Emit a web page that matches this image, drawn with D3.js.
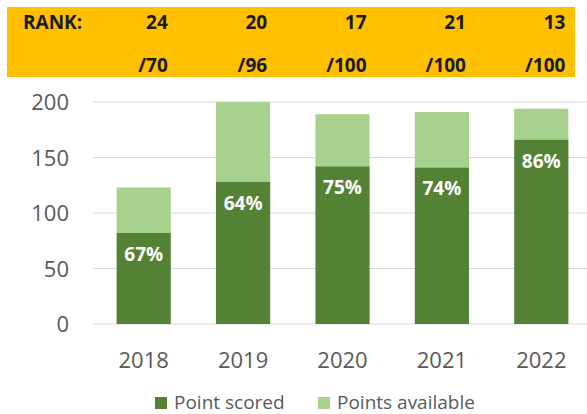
<!DOCTYPE html>
<html>
<head>
<meta charset="utf-8">
<script src="https://cdn.jsdelivr.net/npm/d3@7"></script>
<style>
  body { margin: 0; background: #fff; }
  svg { display: block; font-family: "Open Sans", sans-serif; }
</style>
</head>
<body>
<div id="chart"></div>
<script>
const years = ['2018', '2019', '2020', '2021', '2022'];
const scored = [82, 128, 142, 141, 166];
const available = [123, 200, 189, 191, 194];
const percentLabels = ['67%', '64%', '75%', '74%', '86%'];
const ranks = ['24', '20', '17', '21', '13'];
const rankOf = ['/70', '/96', '/100', '/100', '/100'];
const yTicks = [0, 50, 100, 150, 200];

const width = 587, height = 414;
const darkGreen = '#548235', lightGreen = '#a9d18e';

const svg = d3.select('#chart')
    .append('svg')
    .attr('width', width)
    .attr('height', height);

// scales
const x = d3.scaleBand()
    .domain(years)
    .range([94, 591])
    .paddingInner(0.455)
    .paddingOuter(0.2275);

const y = d3.scaleLinear()
    .domain([0, 200])
    .range([324, 102]);

// yellow rank banner
svg.append('rect')
    .attr('x', 7)
    .attr('y', 7)
    .attr('width', 568)
    .attr('height', 70)
    .attr('fill', '#ffc000');

svg.append('text')
    .attr('x', 23)
    .attr('y', 29)
    .attr('fill', '#1a1a1a')
    .style('font-size', '19px')
    .style('font-weight', 'bold')
    .text('RANK:');

svg.selectAll('.rank')
    .data(years)
    .enter()
    .append('text')
    .attr('class', 'rank')
    .attr('x', d => x(d) + x.bandwidth() - 3)
    .attr('y', 29)
    .attr('text-anchor', 'end')
    .attr('fill', '#1a1a1a')
    .style('font-size', '19px')
    .style('font-weight', 'bold')
    .text((d, i) => ranks[i]);

svg.selectAll('.rank-of')
    .data(years)
    .enter()
    .append('text')
    .attr('class', 'rank-of')
    .attr('x', d => x(d) + x.bandwidth() - 3)
    .attr('y', 72)
    .attr('text-anchor', 'end')
    .attr('fill', '#1a1a1a')
    .style('font-size', '19px')
    .style('font-weight', 'bold')
    .text((d, i) => rankOf[i]);

// gridlines
svg.selectAll('.grid')
    .data(yTicks)
    .enter()
    .append('line')
    .attr('class', 'grid')
    .attr('x1', 93)
    .attr('x2', width)
    .attr('y1', d => y(d))
    .attr('y2', d => y(d))
    .attr('stroke', '#d9d9d9')
    .attr('stroke-width', 1.2);

// y axis labels
const yAxis = d3.axisLeft(y).tickValues(yTicks).tickSize(0).tickPadding(0);
const yG = svg.append('g')
    .attr('transform', 'translate(69,0)')
    .call(yAxis);
yG.select('.domain').remove();
yG.selectAll('text')
    .attr('fill', '#595959')
    .attr('dy', '0.36em')
    .style('font-size', '22px')
    .style('font-family', '"Open Sans", sans-serif');

// x axis labels
const xAxis = d3.axisBottom(x).tickSize(0).tickPadding(0);
const xG = svg.append('g')
    .attr('transform', 'translate(0,352)')
    .call(xAxis);
xG.select('.domain').remove();
xG.selectAll('text')
    .attr('fill', '#595959')
    .attr('dy', '0.72em')
    .style('font-size', '22px')
    .style('font-family', '"Open Sans", sans-serif');

// stacked bars
svg.selectAll('.bar-available')
    .data(years)
    .enter()
    .append('rect')
    .attr('class', 'bar-available')
    .attr('x', d => x(d))
    .attr('width', x.bandwidth())
    .attr('y', (d, i) => y(available[i]))
    .attr('height', (d, i) => y(scored[i]) - y(available[i]))
    .attr('fill', lightGreen);

svg.selectAll('.bar-scored')
    .data(years)
    .enter()
    .append('rect')
    .attr('class', 'bar-scored')
    .attr('x', d => x(d))
    .attr('width', x.bandwidth())
    .attr('y', (d, i) => y(scored[i]))
    .attr('height', (d, i) => y(0) - y(scored[i]))
    .attr('fill', darkGreen);

svg.selectAll('.pct')
    .data(years)
    .enter()
    .append('text')
    .attr('class', 'pct')
    .attr('x', d => x(d) + x.bandwidth() / 2)
    .attr('y', (d, i) => y(scored[i]) + 28)
    .attr('text-anchor', 'middle')
    .attr('fill', '#ffffff')
    .style('font-size', '19px')
    .style('font-weight', 'bold')
    .text((d, i) => percentLabels[i]);

// legend
const legendItems = [
    {label: 'Point scored', color: darkGreen, x: 155},
    {label: 'Points available', color: lightGreen, x: 318}
];
const legend = svg.selectAll('.legend')
    .data(legendItems)
    .enter()
    .append('g')
    .attr('class', 'legend')
    .attr('transform', d => `translate(${d.x},397)`);
legend.append('rect')
    .attr('width', 12)
    .attr('height', 12)
    .attr('fill', d => d.color);
legend.append('text')
    .attr('x', 19)
    .attr('y', 12)
    .attr('fill', '#595959')
    .style('font-size', '19px')
    .text(d => d.label);
</script>
</body>
</html>
